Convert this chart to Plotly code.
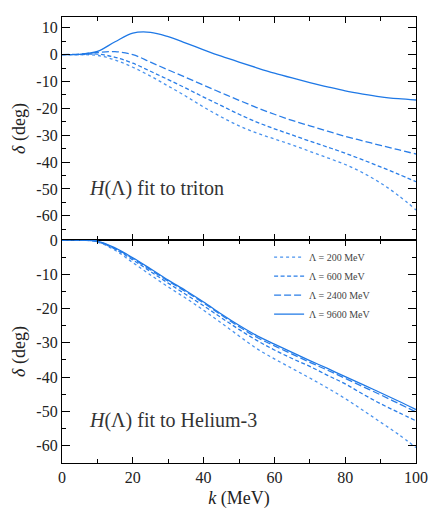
import plotly.graph_objects as go
from plotly.subplots import make_subplots

# ---- data ----
k = [0, 5, 10, 15, 20, 25, 30, 35, 40, 45, 50, 55, 60, 65, 70, 75, 80, 85, 90, 95, 100]

# H(Lambda) fit to triton
tri_200 = [0, 0, -0.3, -2.0, -4.7, -8.0, -11.7, -15.5, -19.5, -23.2, -26.5, -29.2, -31.4, -33.6, -36.0, -38.4, -40.9, -44.0, -47.8, -52.4, -57.8]
tri_600 = [0, 0, 0.2, -1.0, -3.2, -6.2, -9.3, -12.5, -15.8, -19.0, -22.2, -25.1, -27.6, -29.9, -32.2, -34.4, -36.7, -39.2, -41.8, -44.5, -47.3]
tri_2400 = [0, 0.2, 0.8, 1.1, 0.0, -2.8, -5.7, -8.5, -11.4, -14.2, -17.0, -19.7, -22.2, -24.5, -26.5, -28.5, -30.4, -32.1, -33.8, -35.4, -37.0]
tri_9600 = [0, 0.1, 1.2, 4.8, 8.0, 8.3, 6.7, 4.3, 1.8, -0.6, -2.8, -4.9, -6.9, -8.7, -10.4, -12.0, -13.5, -14.7, -15.7, -16.4, -16.9]

# H(Lambda) fit to Helium-3
he_200 = [0, 0, -0.6, -3.0, -6.6, -10.2, -13.7, -17.0, -20.5, -24.2, -28.0, -31.7, -34.7, -37.5, -40.3, -43.2, -46.3, -49.7, -53.2, -56.7, -60.6]
he_600 = [0, 0, -0.5, -2.7, -5.8, -9.2, -12.6, -15.9, -19.2, -22.7, -26.1, -29.3, -32.1, -34.6, -36.9, -39.5, -42.0, -45.0, -47.8, -50.3, -52.8]
he_2400 = [0, 0, -0.4, -2.5, -5.4, -8.7, -12.0, -15.1, -18.4, -21.9, -25.3, -28.4, -30.9, -33.3, -35.7, -38.0, -40.4, -42.8, -45.2, -47.7, -50.2]
he_9600 = [0, 0, -0.3, -2.3, -5.2, -8.4, -11.7, -14.8, -18.1, -21.6, -24.9, -27.9, -30.4, -32.8, -35.2, -37.5, -39.9, -42.2, -44.6, -47.0, -49.5]

names = ["Λ = 200 MeV", "Λ = 600 MeV", "Λ = 2400 MeV", "Λ = 9600 MeV"]
dashes = ["dot", "4px,2.5px", "7px,3px", "solid"]
colors = ["#4a93ee", "#2a7ee8", "#2a7ee8", "#1e78e6"]

y_top_ticks = [10, 0, -10, -20, -30, -40, -50, -60]
y_bot_ticks = [0, -10, -20, -30, -40, -50, -60]
x_ticks = [0, 20, 40, 60, 80, 100]

FONT = "Liberation Serif, Times New Roman, serif"

fig = make_subplots(rows=2, cols=1, shared_xaxes=True, vertical_spacing=0)

for i, ys in enumerate([tri_200, tri_600, tri_2400, tri_9600]):
    fig.add_trace(go.Scatter(x=k, y=ys, mode="lines", line_shape="spline",
                             line=dict(color=colors[i], width=1.3, dash=dashes[i]),
                             name=names[i], showlegend=False), row=1, col=1)
for i, ys in enumerate([he_200, he_600, he_2400, he_9600]):
    fig.add_trace(go.Scatter(x=k, y=ys, mode="lines", line_shape="spline",
                             line=dict(color=colors[i], width=1.3, dash=dashes[i]),
                             name=names[i], showlegend=True), row=2, col=1)

axis_common = dict(showline=True, linecolor="black", linewidth=1.3, mirror="allticks",
                   ticks="inside", tickcolor="black", showgrid=False, zeroline=False,
                   tickfont=dict(family=FONT, size=16, color="#222"))

fig.update_xaxes(range=[0, 100], tickvals=x_ticks, ticktext=[str(v) for v in x_ticks],
                 ticklen=6, tickwidth=1.2,
                 minor=dict(tick0=0, dtick=10, ticks="inside", ticklen=3.5, tickcolor="black"),
                 **axis_common)
fig.update_xaxes(showticklabels=False, row=1, col=1)
fig.update_xaxes(title=dict(text="<i>k</i> (MeV)", font=dict(family=FONT, size=18, color="#222"), standoff=6),
                 row=2, col=1)

fig.update_yaxes(range=[-69, 14], tickvals=y_top_ticks, ticktext=[str(v) for v in y_top_ticks],
                 ticklen=8, tickwidth=1.2,
                 minor=dict(tick0=0, dtick=5, ticks="inside", ticklen=4, tickcolor="black"),
                 title=dict(text="<i>δ</i> (deg)", font=dict(family=FONT, size=18, color="#222"), standoff=6),
                 row=1, col=1, **axis_common)
fig.update_yaxes(range=[-65.1, 0], tickvals=y_bot_ticks, ticktext=[str(v) for v in y_bot_ticks],
                 ticklen=8, tickwidth=1.2,
                 minor=dict(tick0=0, dtick=5, ticks="inside", ticklen=4, tickcolor="black"),
                 title=dict(text="<i>δ</i> (deg)", font=dict(family=FONT, size=18, color="#222"), standoff=6),
                 row=2, col=1, **axis_common)

fig.add_annotation(x=7, y=-49.7, xref="x", yref="y", xanchor="left", yanchor="middle",
                   text="<i>H</i>(Λ) fit to triton", showarrow=False,
                   font=dict(family=FONT, size=20, color="#333"))
fig.add_annotation(x=7, y=-52.8, xref="x2", yref="y2", xanchor="left", yanchor="middle",
                   text="<i>H</i>(Λ) fit to Helium-3", showarrow=False,
                   font=dict(family=FONT, size=20, color="#333"))

fig.update_layout(
    width=437, height=514,
    margin=dict(l=62, r=15, t=9, b=47),
    paper_bgcolor="white", plot_bgcolor="white",
    legend=dict(x=0.585, y=0.494, xanchor="left", yanchor="top",
                bgcolor="rgba(0,0,0,0)", font=dict(family=FONT, size=10, color="#444"),
                tracegroupgap=0, itemwidth=30),
)

fig.write_html("out.html")
